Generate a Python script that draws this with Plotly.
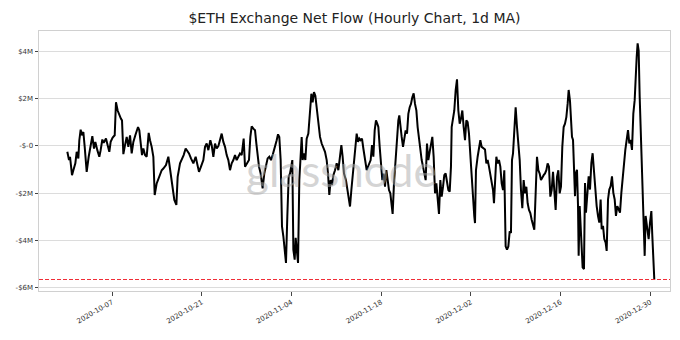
import pandas as pd
import plotly.graph_objects as go

# Time of each reading, in days after 2020-10-07 00:00
day_offset = [
    -6.97, -6.71, -6.55, -6.24, -6.03, -5.72, -5.51, -5.25, -5.10, -4.89, -4.68, -4.47, -4.26, -3.95,
    -3.64, -3.33, -3.07, -2.81, -2.60, -2.29, -1.98, -1.77, -1.51, -1.30, -0.94, -0.68, -0.42, -0.21,
    0.10, 0.42, 0.62, 0.88, 1.14, 1.40, 1.56, 1.77, 2.03, 2.29, 2.55, 2.81, 3.07, 3.33, 3.64, 3.85,
    4.06, 4.26, 4.47, 4.68, 4.89, 5.15, 5.41, 5.56, 5.72, 5.93, 6.19, 6.45, 6.66, 6.97, 7.23, 7.49,
    7.75, 8.01, 8.42, 8.79, 9.05, 9.41, 9.72, 10.04, 10.24, 10.61, 10.87, 11.18, 11.49, 11.70, 12.01,
    12.32, 12.69, 13.05, 13.31, 13.57, 13.88, 14.25, 14.51, 14.77, 15.03, 15.34, 15.55, 15.81, 16.07,
    16.33, 16.59, 16.85, 17.11, 17.37, 17.63, 17.89, 18.15, 18.41, 18.67, 18.93, 19.19, 19.45, 19.71,
    19.97, 20.23, 20.54, 20.75, 21.06, 21.37, 21.58, 21.79, 22.05, 22.31, 22.52, 22.72, 22.93, 23.19,
    23.50, 23.76, 24.02, 24.28, 24.54, 24.80, 25.06, 25.38, 25.69, 25.90, 26.10, 26.31, 26.52, 26.73,
    26.94, 27.14, 27.35, 27.56, 27.77, 27.98, 28.13, 28.29, 28.50, 28.65, 28.81, 29.02, 29.22, 29.43,
    29.59, 29.74, 29.95, 30.16, 30.37, 30.63, 30.89, 31.10, 31.30, 31.51, 31.72, 31.93, 32.19, 32.45,
    32.71, 32.97, 33.23, 33.49, 33.70, 33.90, 34.11, 34.32, 34.53, 34.79, 35.05, 35.31, 35.57, 35.78,
    35.98, 36.19, 36.50, 36.71, 36.92, 37.13, 37.34, 37.54, 37.75, 37.96, 38.17, 38.38, 38.58, 38.79,
    39.00, 39.21, 39.42, 39.73, 40.04, 40.35, 40.56, 40.77, 40.98, 41.18, 41.39, 41.55, 41.76, 41.96,
    42.17, 42.38, 42.59, 42.80, 43.00, 43.21, 43.42, 43.63, 43.78, 43.99, 44.25, 44.46, 44.67, 44.82,
    45.03, 45.19, 45.40, 45.60, 45.81, 46.02, 46.23, 46.44, 46.64, 46.85, 47.06, 47.27, 47.48, 47.68,
    47.89, 48.10, 48.31, 48.52, 48.72, 48.93, 49.14, 49.35, 49.56, 49.76, 49.97, 50.18, 50.39, 50.60,
    50.80, 51.01, 51.22, 51.43, 51.64, 51.84, 52.05, 52.26, 52.47, 52.68, 52.88, 52.99, 53.20, 53.40,
    53.61, 53.82, 54.03, 54.24, 54.44, 54.65, 54.86, 55.07, 55.28, 55.48, 55.69, 55.90, 56.11, 56.32,
    56.52, 56.63, 56.78, 57.04, 57.25, 57.46, 57.67, 57.93, 58.19, 58.40, 58.60, 58.81, 59.02, 59.23,
    59.44, 59.59, 59.75, 59.96, 60.16, 60.37, 60.58, 60.79, 61.00, 61.20, 61.41, 61.62, 61.83, 62.04,
    62.24, 62.40, 62.56, 62.76, 62.97, 63.18, 63.39, 63.60, 63.80, 64.01, 64.22, 64.43, 64.64, 64.84,
    65.05, 65.26, 65.47, 65.68, 65.88, 66.09, 66.30, 66.51, 66.72, 66.92, 67.13, 67.34, 67.55, 67.76,
    67.96, 68.17, 68.38, 68.59, 68.80, 69.00, 69.21, 69.42, 69.63, 69.84, 70.04, 70.25, 70.46, 70.67,
    70.88, 71.08, 71.24, 71.45, 71.60, 71.76, 71.92, 72.07, 72.23, 72.38, 72.54, 72.70, 72.80, 72.96,
    73.11, 73.27, 73.42, 73.63, 73.79, 73.94, 74.15, 74.36, 74.57, 74.78, 74.98, 75.19, 75.40, 75.61,
    75.82, 76.02, 76.23, 76.39, 76.60, 76.80, 77.01, 77.17, 77.38, 77.58, 77.79, 78.00, 78.21, 78.42,
    78.62, 78.83, 79.04, 79.25, 79.46, 79.66, 79.87, 80.08, 80.29, 80.50, 80.70, 80.91, 81.12, 81.33,
    81.54, 81.69, 81.85, 82.00, 82.16, 82.32, 82.52, 82.73, 82.94, 83.10, 83.25, 83.41, 83.56, 83.72,
    83.93, 84.14, 84.29, 84.45, 84.60,
]

# Net flow (1d moving average), in millions of USD
net_flow_musd = [
    -0.25, -0.60, -0.46, -1.24, -1.03, -0.74, -0.25, -0.53, 0.24, 0.69, 0.45, 0.59, -0.04, -1.10,
    -0.46, -0.04, 0.41, -0.11, 0.17, -0.18, -0.46, -0.18, 0.27, 0.13, 0.31, 0.03, -0.25, 0.17,
    0.35, 0.45, 1.85, 1.50, 1.29, 1.15, 1.08, -0.35, 0.03, 0.38, -0.04, 0.45, -0.32, 0.17, 0.45, 0.59,
    0.80, 0.66, 0.10, -0.39, -0.11, -0.39, -0.46, 0.10, 0.55, 0.24, -0.04, -0.46, -2.08, -1.59, -1.38, -1.24,
    -1.03, -0.96, -0.81, -0.46, -1.03, -1.73, -2.29, -2.50, -1.31, -0.74, -0.60, -0.39, -0.11, -0.18, -0.32,
    -0.53, -0.74, -0.46, -0.74, -1.10, -0.88, -0.60, -0.04, 0.10, -0.18, 0.24, 0.03, -0.46, 0.10,
    -0.11, -0.01, 0.31, 0.52, 0.17, -0.04, -0.39, -0.60, -1.03, -0.74, -0.60, -0.39, -0.60, -0.46,
    -0.32, -0.39, 0.31, -0.88, -0.74, -0.60, 0.38, 0.83, 0.73, 0.66, 0.10, -0.46, -0.88, -1.17,
    -1.80, -1.17, -0.88, -0.53, -0.46, -0.60, -0.39, -0.11, 0.24, 0.49, 0.38, -0.60, -3.41, -3.83,
    -4.40, -4.96, -2.99, -1.31, -1.17, -0.74, -0.60, -4.40, -4.82, -3.90, -4.54, -4.96, -1.45, -0.32,
    0.38, -0.60, -0.32, -0.60, 0.31, 0.52, 1.64, 2.21, 1.85, 2.28, 2.13, 1.57, 0.80, 0.38,
    0.10, -0.11, -0.25, -0.60, -1.17, -2.08, -1.45, -1.66, -1.24, -1.03, -0.74, -1.03, -0.39, 0.03,
    -0.46, -1.17, -1.45, -1.80, -2.15, -2.57, -1.87, -1.31, -0.74, -0.18, 0.52, 0.17, 0.31, 0.24,
    0.31, -0.11, -0.46, -1.03, -0.81, -0.60, 0.03, -0.46, 0.66, 1.08, 0.94, 0.80, -0.04, -0.60,
    -1.45, -1.17, -1.73, -1.03, -1.59, -1.87, -2.01, -2.57, -2.88, -1.59, -0.46, 0.38, 1.08, 1.29,
    0.66, 0.38, -0.04, 0.24, 0.66, 0.52, 1.36, 1.64, 1.78, 2.06, 2.23, 1.78, 1.50, 0.80,
    0.24, -0.32, -0.60, -0.88, -1.17, -1.45, 0.10, -0.60, -0.25, 0.10, 0.38, -0.46, -2.01, -1.59,
    -2.29, -2.88, -1.45, -2.15, -1.73, -1.24, -1.17, -1.59, -1.87, -1.94, -0.88, 0.80, 1.08, 1.50,
    2.35, 2.82, 1.50, 0.94, 1.15, 1.50, 0.80, 0.24, 1.08, 1.01, 0.52, -0.46, -1.45, -2.43,
    -2.99, -3.27, -1.03, -0.46, -0.04, 0.24, -0.04, -0.11, -0.15, -0.74, -0.60, -0.88, -1.17, -1.45,
    -1.87, -2.43, -1.59, -0.46, -0.74, -0.60, -0.88, -1.59, -1.87, -1.03, -4.26, -4.40, -4.26, -3.62,
    -3.69, -0.60, -0.32, 0.80, 1.64, 0.80, 0.24, -0.60, -1.87, -2.64, -1.45, -2.01, -1.73, -2.43,
    -2.71, -2.85, -3.13, -3.41, -3.55, -2.01, -0.46, -1.03, -1.17, -1.45, -1.31, -1.24, -1.17, -1.03,
    -0.74, -0.88, -2.15, -1.87, -1.10, -1.73, -2.71, -1.31, -1.03, -2.01, -1.73, -0.04, 0.80, 0.94,
    1.22, 1.78, 2.37, 1.90, 1.23, 0.39, 0.25, -0.73, -2.13, -1.15, -1.01, -2.55, -4.66, -2.55,
    -3.39, -4.38, -5.15, -5.22, -1.57, -2.83, -1.99, -1.29, -1.85, -0.73, -0.31, -1.01, -1.99, -2.55,
    -2.97, -3.25, -2.27, -3.53, -3.39, -3.95, -4.10, -4.45, -2.27, -1.85, -1.71, -1.29, -1.99, -2.27,
    -2.97, -2.55, -2.69, -2.83, -1.99, -1.29, -0.73, -0.17, 0.25, 0.67, 0.11, 0.25, -0.17, 1.37,
    1.94, 3.06, 3.76, 4.35, 4.04, 2.08, 0.11, -1.57, -3.39, -4.66, -2.97, -3.39, -3.53, -3.95,
    -3.25, -2.76, -3.81, -4.94, -5.66,
]

y_tick_values_musd = [-6, -4, -2, 0, 2, 4]
y_tick_labels = ["-$6M", "-$4M", "-$2M", "-$-0", "$2M", "$4M"]
x_tick_dates = ["2020-10-07", "2020-10-21", "2020-11-04", "2020-11-18",
                "2020-12-02", "2020-12-16", "2020-12-30"]

base = pd.Timestamp("2020-10-07")
times = base + pd.to_timedelta(day_offset, unit="D")
values = [v * 1e6 for v in net_flow_musd]
min_value = min(values)

x_range = [base + pd.Timedelta(days=-11.39), base + pd.Timedelta(days=87.05)]

fig = go.Figure()
fig.add_trace(go.Scatter(
    x=times, y=values, mode="lines",
    line=dict(color="black", width=2),
    hoverinfo="skip", showlegend=False,
))

fig.add_shape(type="line", xref="paper", x0=0, x1=1, yref="y", y0=min_value, y1=min_value,
              line=dict(color="rgb(240,45,55)", width=1.1, dash="4px,2px"))

fig.add_annotation(text="glassnode", xref="paper", yref="paper", x=0.479, y=0.465,
                   showarrow=False,
                   font=dict(family="Lato, Open Sans, sans-serif", size=44,
                             color="rgba(170,170,170,0.5)"))

fig.update_layout(
    width=680, height=340,
    margin=dict(l=39, r=10, t=31, b=49),
    paper_bgcolor="white", plot_bgcolor="white",
    font=dict(family="DejaVu Sans", size=7, color="#333"),
    title=dict(text="$ETH Exchange Net Flow (Hourly Chart, 1d MA)",
               x=0.5, xref="paper", xanchor="center",
               y=1 - 18.5 / 340, yref="container", yanchor="middle",
               font=dict(family="DejaVu Sans", size=14, color="#222")),
    xaxis=dict(
        range=x_range, type="date",
        tickmode="array", tickvals=[pd.Timestamp(d) for d in x_tick_dates],
        ticktext=x_tick_dates, tickangle=-30,
        ticks="outside", ticklen=3.5, tickcolor="#444", tickwidth=1,
        showgrid=False, zeroline=False,
        showline=True, linecolor="#d0d0d0", linewidth=1, mirror=True,
        tickfont=dict(family="DejaVu Sans", size=7, color="#333"),
    ),
    yaxis=dict(
        range=[-6.15e6, 4.87e6],
        tickmode="array", tickvals=[v * 1e6 for v in y_tick_values_musd],
        ticktext=y_tick_labels,
        ticks="outside", ticklen=3.5, tickcolor="#444", tickwidth=1,
        showgrid=True, gridcolor="#dcdcdc", gridwidth=1,
        zeroline=False,
        showline=True, linecolor="#d0d0d0", linewidth=1, mirror=True,
        tickfont=dict(family="DejaVu Sans", size=7, color="#333"),
    ),
)

fig.write_html("out.html")
